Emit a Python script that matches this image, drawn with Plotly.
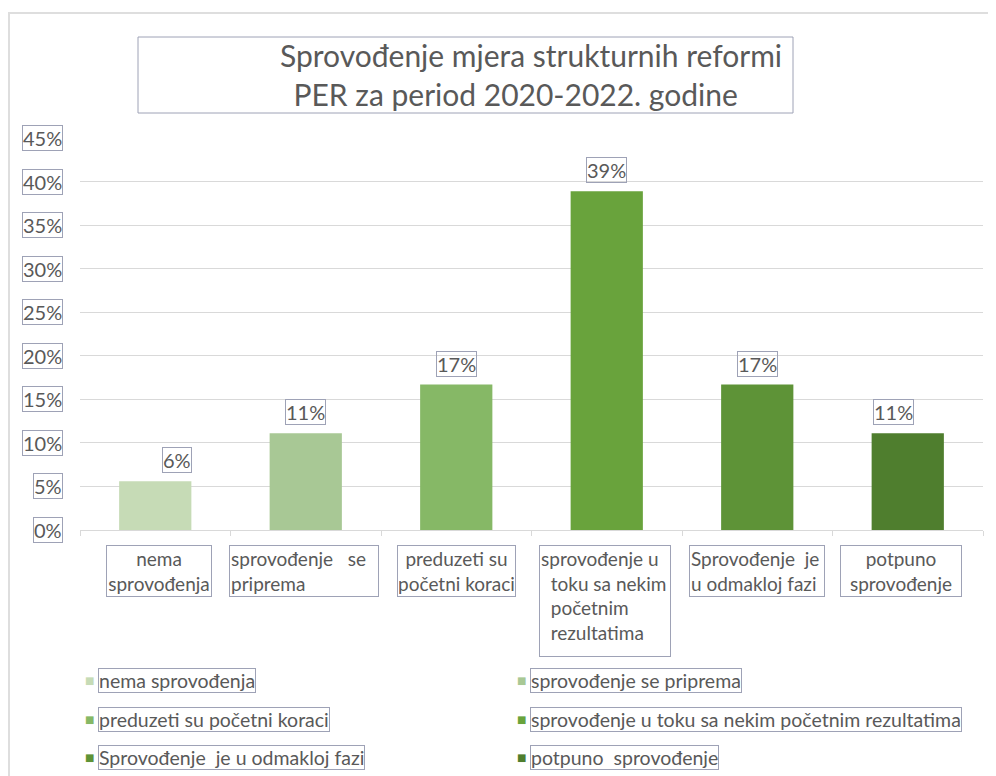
import plotly.graph_objects as go

# ---- data ----
categories = ["nema sprovođenja", "sprovođenje se priprema", "preduzeti su početni koraci",
              "sprovođenje u toku sa nekim početnim rezultatima", "Sprovođenje je u odmakloj fazi",
              "potpuno sprovođenje"]
values = [0.056, 0.111, 0.167, 0.389, 0.167, 0.111]
cat_labels = ["nema<br>sprovođenja",
              "sprovođenje\u00a0\u00a0\u00a0se<br>priprema",
              "preduzeti su<br>početni koraci",
              "sprovođenje u<br>\u00a0\u00a0toku sa nekim<br>\u00a0\u00a0početnim<br>\u00a0\u00a0rezultatima",
              "Sprovođenje\u00a0\u00a0je<br>u odmakloj fazi",
              "potpuno<br>sprovođenje"]
legend_names = ["nema sprovođenja", "sprovođenje se priprema", "preduzeti su početni koraci",
                "sprovođenje u toku sa nekim početnim rezultatima",
                "Sprovođenje\u00a0\u00a0je u odmakloj fazi", "potpuno\u00a0\u00a0sprovođenje"]
y_ticks = [0, 0.05, 0.10, 0.15, 0.20, 0.25, 0.30, 0.35, 0.40, 0.45]
y_tick_labels = ["0%", "5%", "10%", "15%", "20%", "25%", "30%", "35%", "40%", "45%"]
title_text = "Sprovođenje mjera strukturnih reformi<br>PER za period 2020-2022. godine\u00a0\u00a0\u00a0\u00a0"

# ---- style ----
colors = ["#c6dbb6", "#a8c895", "#86b866", "#69a33c", "#5e9337", "#4f7e2e"]
text_col = "#595959"
box_col = "#9ea2b6"
grid_col = "#d9d9d9"
FONT = "Lato"

W, H = 996, 776
OFF = 8  # page body margin offset
# plot area in screen pixels
PX0, PX1, PY0, PY1 = 80, 983, 138, 530
L, R, T, B = PX0 - OFF, W - (PX1 - OFF), PY0 - OFF, H - (PY1 - OFF)
PW, PH = PX1 - PX0, PY1 - PY0


def fx(px):
    return (px - PX0) / PW


def fy(py):
    return (PY1 - py) / PH


fig = go.Figure(go.Bar(
    x=categories, y=values, marker=dict(color=colors, line=dict(width=0)),
    showlegend=False, hoverinfo="skip"))

ann = []
# y tick labels in boxes
for v, t in zip(y_ticks, y_tick_labels):
    ann.append(dict(x=fx(63), xref="paper", y=v, yref="y", xanchor="right", yanchor="middle",
                    text=t, showarrow=False, font=dict(family=FONT, size=20, color=text_col),
                    bordercolor=box_col, borderwidth=1, borderpad=0))

# data labels
label_dx = [22, 0, 0, 0, 0, -14]
for c, v, dx in zip(categories, values, label_dx):
    ann.append(dict(x=c, y=v, xref="x", yref="y", yanchor="bottom", xanchor="center",
                    text=f"{round(v * 100)}%", showarrow=False, yshift=8, xshift=dx,
                    font=dict(family=FONT, size=20, color=text_col),
                    bordercolor=box_col, borderwidth=1, borderpad=0))

# category labels
cat_w = [106, 150, 119, 132, 136, 122]
cat_h = [None, None, None, 108, None, None]
cat_align = ["center", "left", "center", "left", "left", "center"]
cat_dx = [4, -2, 0, -2, 0, -7]
for c, t, w, h, a, dx in zip(categories, cat_labels, cat_w, cat_h, cat_align, cat_dx):
    d = dict(x=c, xref="x", y=fy(545), yref="paper", xanchor="center", yanchor="top",
             text=t, showarrow=False, align=a, valign="top", width=w - 4, xshift=dx,
             font=dict(family=FONT, size=19, color=text_col),
             bordercolor=box_col, borderwidth=1, borderpad=1)
    if h:
        d["height"] = h
    ann.append(d)

# legend (two columns)
leg_pos = [(89, 680), (521, 680), (89, 719), (521, 719), (89, 757), (521, 757)]
for name, col, (px, py) in zip(legend_names, colors, leg_pos):
    ann.append(dict(x=fx(px), y=fy(py), xref="paper", yref="paper", xanchor="center",
                    yanchor="middle", text="■", showarrow=False,
                    font=dict(family="DejaVu Sans", size=10, color=col)))
    ann.append(dict(x=fx(px + 9), y=fy(py), xref="paper", yref="paper", xanchor="left",
                    yanchor="middle", text=name, showarrow=False,
                    font=dict(family=FONT, size=19.5, color=text_col),
                    bordercolor=box_col, borderwidth=1, borderpad=0))

# title
ann.append(dict(x=fx(531), y=fy(74), xref="paper", yref="paper", xanchor="center",
                yanchor="middle", text=title_text, showarrow=False, align="center",
                font=dict(family=FONT, size=30, color=text_col)))

shapes = [
    dict(type="rect", xref="paper", yref="paper", x0=fx(138), x1=fx(793), y0=fy(37), y1=fy(113),
         line=dict(color=box_col, width=1)),
    dict(type="rect", xref="paper", yref="paper", x0=fx(9), x1=fx(1010), y0=fy(13), y1=fy(800),
         line=dict(color="#dedede", width=2)),
]

fig.update_layout(
    width=W, height=H, margin=dict(l=L, r=R, t=T, b=B),
    paper_bgcolor="white", plot_bgcolor="white",
    bargap=0.52, annotations=ann, shapes=shapes, showlegend=False,
    xaxis=dict(showticklabels=False, showline=True, linecolor=grid_col, linewidth=1,
               ticks="outside", tickson="boundaries", ticklen=5, tickcolor=grid_col,
               showgrid=False, fixedrange=True),
    yaxis=dict(range=[0, 0.45], tickvals=y_ticks, showticklabels=False, showgrid=True,
               gridcolor=grid_col, gridwidth=1, zeroline=False, fixedrange=True),
)

fig.write_html("out.html")
